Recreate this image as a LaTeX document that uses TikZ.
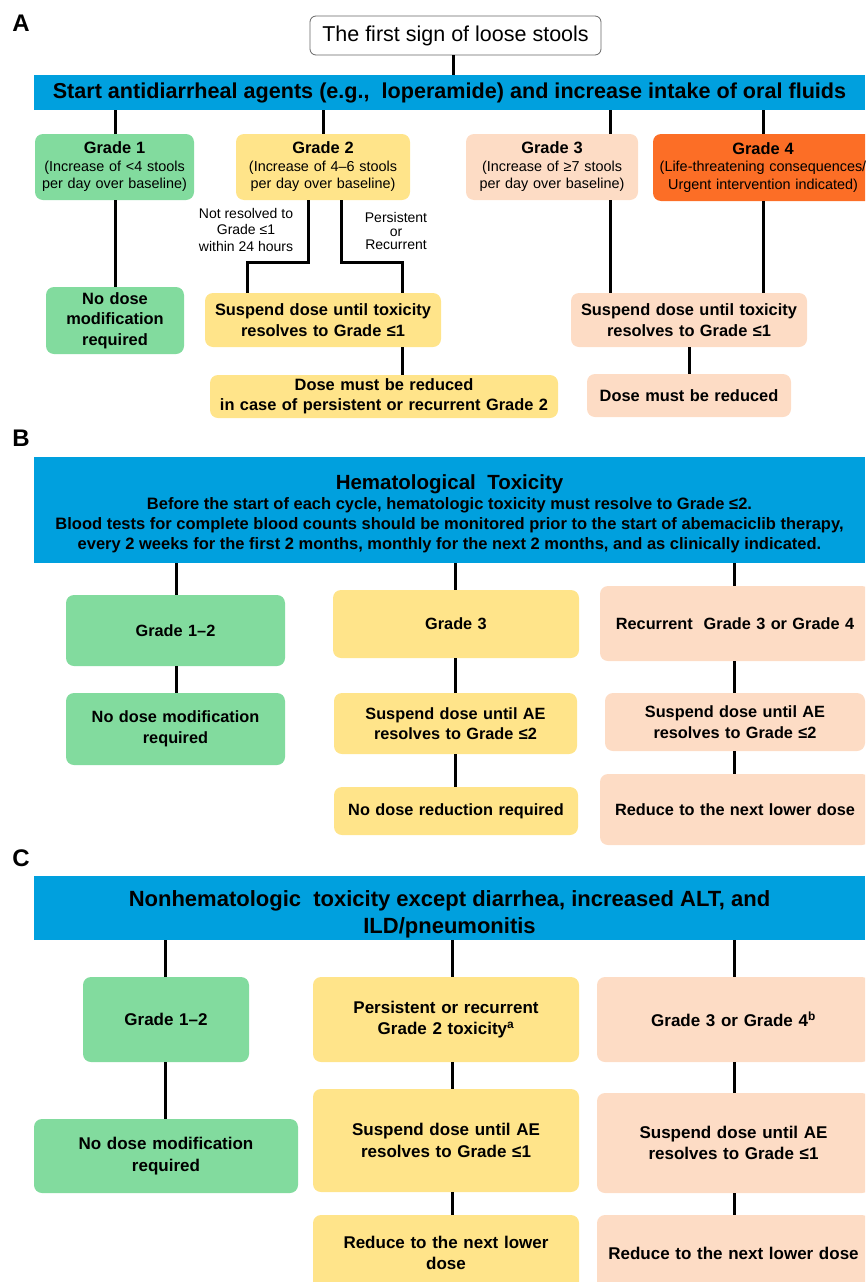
\documentclass[tikz,border=0pt]{standalone}
\usepackage{fontspec}
\setmainfont{Liberation Sans}
\usetikzlibrary{calc}
\definecolor{cblue}{RGB}{0,160,222}
\definecolor{cgreen}{RGB}{130,219,158}
\definecolor{cyellow}{RGB}{255,228,138}
\definecolor{cpeach}{RGB}{253,220,197}
\definecolor{corange}{RGB}{252,110,38}
\newcommand\fs[2]{\fontsize{#1}{#2}\selectfont}
\begin{document}
\begin{tikzpicture}[x=1pt,y=-1pt,
  bx/.style={rounded corners=8pt, align=center, inner sep=0pt},
  bar/.style={fill=cblue, inner sep=0pt, align=center},
  bartext/.style={inner sep=0pt, align=center},
  ln/.style={line width=3pt},
  letter/.style={font=\fs{24}{28}\bfseries, inner sep=0pt},
  note/.style={align=center, inner sep=0pt, font=\fs{14}{16.5}},
  gbox/.style={bx, font=\fs{14.4}{17.5}},
  abox/.style={bx, font=\fs{16.4}{20.5}\bfseries},
  bbox/.style={bx, font=\fs{16.3}{20.5}\bfseries},
  cbox/.style={bx, font=\fs{17}{21.5}\bfseries}]
\useasboundingbox (0,0) rectangle (865,1282);
\clip (0,0) rectangle (865,1282);

% ---------------- A ----------------
\node[letter] (la) at (21,23) {A};
\node[draw=black!60, line width=0.8pt, rounded corners=6pt, fill=white, minimum width=291pt, minimum height=39pt, font=\fs{21.5}{24}] (first) at (455.5,35.5) {The first sign of loose stools};
\node[bar, minimum width=831pt, minimum height=35pt, font=\fs{21.6}{24}\bfseries] (barA) at (449.5,92.5) {Start antidiarrheal agents (e.g.,\ \ loperamide) and increase intake of oral fluids};

\node[gbox, fill=cgreen, minimum width=159pt, minimum height=66pt, text width=155pt] (g1) at (114.5,167) {{\fs{16.4}{19.5}\bfseries Grade 1\par}(Increase of <4 stools\\per day over baseline)};
\node[gbox, fill=cyellow, minimum width=174pt, minimum height=66pt, text width=170pt] (g2) at (323,167) {{\fs{16.4}{19.5}\bfseries Grade 2\par}(Increase of 4--6 stools\\per day over baseline)};
\node[gbox, fill=cpeach, minimum width=172pt, minimum height=66pt, text width=168pt] (g3) at (552,167) {{\fs{16.4}{19.5}\bfseries Grade 3\par}(Increase of ≥7 stools\\per day over baseline)};
\node[gbox, fill=corange, minimum width=220pt, minimum height=67pt, text width=216pt] (g4) at (763,167.5) {{\fs{16.4}{19.5}\bfseries Grade 4\par}(Life-threatening consequences/\\Urgent intervention indicated)};

\node[abox, fill=cgreen, minimum width=138pt, minimum height=67pt, text width=134pt] (n1) at (115,320.5) {No dose\\modification\\required};
\node[abox, fill=cyellow, minimum width=236pt, minimum height=54pt, text width=232pt] (s2) at (323,320) {Suspend dose until toxicity\\resolves to Grade ≤1};
\node[abox, fill=cyellow, minimum width=348pt, minimum height=43pt, text width=344pt] (d2) at (384,396.5) {Dose must be reduced\\in case of persistent or recurrent Grade 2};
\node[abox, fill=cpeach, minimum width=236pt, minimum height=54pt, text width=232pt] (s3) at (689,320) {Suspend dose until toxicity\\resolves to Grade ≤1};
\node[abox, fill=cpeach, minimum width=204pt, minimum height=43pt, text width=200pt] (d3) at (689,395.5) {Dose must be reduced};

\node[note] (lab1) at (246,229.5) {Not resolved to\\Grade ≤1\\within 24 hours};
\node[note, font=\fs{14}{13.5}] (lab2) at (396,231) {Persistent\\or\\Recurrent};

\coordinate (xa0) at (453,0);
\coordinate (xa1) at (115,0);
\coordinate (xa2) at (323,0);
\coordinate (xa3) at (610,0);
\coordinate (xa4) at (763,0);
\coordinate (k1) at (308,262);
\coordinate (k2) at (247,262);
\coordinate (k3) at (341,262);
\coordinate (k4) at (402,262);
\coordinate (xa5) at (689,0);

\draw[ln] (first.south -| xa0) -- (barA.north -| xa0);
\draw[ln] (barA.south -| xa1) -- (g1.north -| xa1);
\draw[ln] (barA.south -| xa2) -- (g2.north -| xa2);
\draw[ln] (barA.south -| xa3) -- (g3.north -| xa3);
\draw[ln] (barA.south -| xa4) -- (g4.north -| xa4);
\draw[ln] (g1.south -| xa1) -- (n1.north -| xa1);
\draw[ln] (g2.south -| k1) -- (k1) -- (k2) -- (s2.north -| k2);
\draw[ln] (g2.south -| k3) -- (k3) -- (k4) -- (s2.north -| k4);
\draw[ln] (s2.south -| k4) -- (d2.north -| k4);
\draw[ln] (g3.south -| xa3) -- (s3.north -| xa3);
\draw[ln] (g4.south -| xa4) -- (s3.north -| xa4);
\draw[ln] (s3.south -| xa5) -- (d3.north -| xa5);

% ---------------- B ----------------
\node[letter] (lb) at (21,438) {B};
\node[bar, minimum width=831pt, minimum height=106pt] (barB) at (449.5,510) {};
\node[bartext, font=\fs{20.5}{23}\bfseries] (barBt) at (449.5,484.5) {Hematological\ \ Toxicity};
\node[bartext, font=\fs{16.5}{20}\bfseries] (barBs) at (449.5,525) {Before the start of each cycle, hematologic toxicity must resolve to Grade ≤2.\\Blood tests for complete blood counts should be monitored prior to the start of abemaciclib therapy,\\every 2 weeks for the first 2 months, monthly for the next 2 months, and as clinically indicated.};

\node[bbox, fill=cgreen, minimum width=219pt, minimum height=71pt, text width=215pt] (b1) at (175.5,630.5) {Grade 1--2};
\node[bbox, fill=cgreen, minimum width=219pt, minimum height=72pt, text width=215pt] (b1n) at (175.5,729) {No dose modification\\required};
\node[bbox, fill=cyellow, minimum width=246pt, minimum height=68pt, text width=242pt] (b2) at (456,624) {Grade 3};
\node[bbox, fill=cyellow, minimum width=243pt, minimum height=61pt, text width=239pt] (b2s) at (455.5,723.5) {Suspend dose until AE\\resolves to Grade ≤2};
\node[bbox, fill=cyellow, minimum width=244pt, minimum height=48pt, text width=240pt] (b2n) at (456,811) {No dose reduction required};
\node[bbox, fill=cpeach, minimum width=270pt, minimum height=75pt, text width=266pt] (b3) at (735,623.5) {Recurrent\ \ Grade 3 or Grade 4};
\node[bbox, fill=cpeach, minimum width=260pt, minimum height=58pt, text width=256pt] (b3s) at (735,722) {Suspend dose until AE\\resolves to Grade ≤2};
\node[bbox, fill=cpeach, minimum width=270pt, minimum height=71pt, text width=266pt] (b3r) at (735,809.5) {Reduce to the next lower dose};

\coordinate (xb1) at (176,0);
\coordinate (xb2) at (455,0);
\coordinate (xb3) at (734,0);
\draw[ln] (barB.south -| xb1) -- (b1.north -| xb1);
\draw[ln] (b1.south -| xb1) -- (b1n.north -| xb1);
\draw[ln] (barB.south -| xb2) -- (b2.north -| xb2);
\draw[ln] (b2.south -| xb2) -- (b2s.north -| xb2);
\draw[ln] (b2s.south -| xb2) -- (b2n.north -| xb2);
\draw[ln] (barB.south -| xb3) -- (b3.north -| xb3);
\draw[ln] (b3.south -| xb3) -- (b3s.north -| xb3);
\draw[ln] (b3s.south -| xb3) -- (b3r.north -| xb3);

% ---------------- C ----------------
\node[letter] (lc) at (21,858) {C};
\node[bar, minimum width=831pt, minimum height=64pt] (barC) at (449.5,908) {};
\node[bartext, font=\fs{22}{27}\bfseries] (barCt) at (449.5,914) {Nonhematologic\ \ toxicity except diarrhea, increased ALT, and\\ILD/pneumonitis};

\node[cbox, fill=cgreen, minimum width=166pt, minimum height=85pt, text width=162pt] (c1) at (166,1019.5) {Grade 1--2};
\node[cbox, fill=cyellow, minimum width=266pt, minimum height=85pt, text width=262pt] (c2) at (446,1019.5) {Persistent or recurrent\\Grade 2 toxicity\textsuperscript{a}};
\node[cbox, fill=cpeach, minimum width=273pt, minimum height=85pt, text width=269pt] (c3) at (733.5,1019.5) {Grade 3 or Grade 4\textsuperscript{b}};
\node[cbox, fill=cgreen, minimum width=264pt, minimum height=74pt, text width=260pt] (c1n) at (166,1156) {No dose modification\\required};
\node[cbox, fill=cyellow, minimum width=266pt, minimum height=103pt, text width=262pt] (c2s) at (446,1140.5) {Suspend dose until AE\\resolves to Grade ≤1};
\node[cbox, fill=cyellow, minimum width=266pt, minimum height=76pt, text width=262pt] (c2r) at (446,1253) {Reduce to the next lower\\dose};
\node[cbox, fill=cpeach, minimum width=273pt, minimum height=100pt, text width=269pt] (c3s) at (733.5,1143) {Suspend dose until AE\\resolves to Grade ≤1};
\node[cbox, fill=cpeach, minimum width=273pt, minimum height=76pt, text width=269pt] (c3r) at (733.5,1253) {Reduce to the next lower dose};

\coordinate (xc1) at (165,0);
\coordinate (xc2) at (452,0);
\coordinate (xc3) at (734,0);
\draw[ln] (barC.south -| xc1) -- (c1.north -| xc1);
\draw[ln] (c1.south -| xc1) -- (c1n.north -| xc1);
\draw[ln] (barC.south -| xc2) -- (c2.north -| xc2);
\draw[ln] (c2.south -| xc2) -- (c2s.north -| xc2);
\draw[ln] (c2s.south -| xc2) -- (c2r.north -| xc2);
\draw[ln] (barC.south -| xc3) -- (c3.north -| xc3);
\draw[ln] (c3.south -| xc3) -- (c3s.north -| xc3);
\draw[ln] (c3s.south -| xc3) -- (c3r.north -| xc3);
\end{tikzpicture}
\end{document}
